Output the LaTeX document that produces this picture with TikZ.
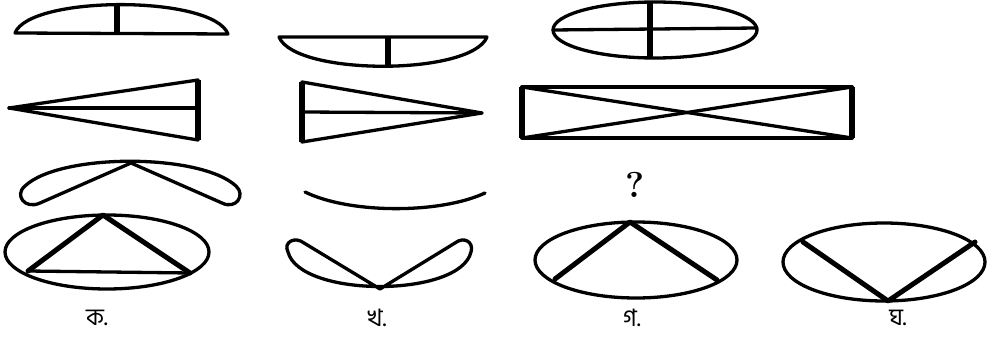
\documentclass[tikz,border=0pt]{standalone}
\usepackage{fontspec}
\newfontfamily\bnfont[Script=Bengali]{Hind Siliguri}
\begin{document}
\begin{tikzpicture}[x=1pt,y=-1pt,
  ln/.style={line width=3.3pt,line join=round,line cap=round},
  med/.style={line width=5pt,line join=round,line cap=round},
  thk/.style={line width=6.5pt,line cap=butt},
  lbl/.style={font=\bnfont\fontsize{24}{28}\selectfont,inner sep=0pt}]
\useasboundingbox[fill=white] (0,0) rectangle (987,339);
% row 1
\draw[ln] (15,33) .. controls (30,-5) and (213,-5) .. (228,34) -- cycle;
\draw[thk] (117,6) -- (117,33);
\draw[ln] (279,37) .. controls (295,76) and (471,76) .. (487,37) -- cycle;
\draw[thk] (388,37) -- (388,65);
\draw[ln] (655,30) ellipse [x radius=102, y radius=28];
\draw[ln] (553,30) -- (757,28);
\draw[thk] (650,2) -- (650,58);
% row 2
\draw[ln] (9,108) -- (198,80) -- (198,140) -- cycle;
\draw[ln] (9,108) -- (198,108);
\draw[thk] (198,80) -- (198,140);
\draw[ln] (302,82) -- (482,113) -- (302,142) -- cycle;
\draw[ln] (302,112) -- (482,113);
\draw[thk] (302,82) -- (302,142);
\draw[ln] (522,87) rectangle (852,138);
\draw[ln] (522,87) -- (852,138);
\draw[ln] (522,138) -- (852,87);
\draw[thk] (522,87) -- (522,138);
\draw[thk] (852,87) -- (852,138);
% row 3
\draw[ln] (131,163) -- (40,203) .. controls (25,210) and (14,195) .. (25,186)
  .. controls (60,153) and (200,153) .. (236,186)
  .. controls (246,195) and (236,210) .. (222,203) -- cycle;
\draw[ln] (305,192) .. controls (350,214) and (440,214) .. (485,193);
\node[inner sep=0pt] (q) at (635,185) {\fontsize{36}{40}\selectfont\textbf{?}};
% row 4
\draw[ln] (107,252) ellipse [x radius=102, y radius=37];
\draw[ln] (28,271) -- (190,273);
\draw[med] (28,271) -- (103,215) -- (190,273);
\draw[ln] (380,289) -- (304,243) .. controls (295,236) and (283,242) .. (288,252)
  .. controls (300,298) and (460,298) .. (471,252)
  .. controls (474,242) and (464,236) .. (455,243) -- cycle;
\draw[ln] (636,260) ellipse [x radius=101, y radius=38];
\draw[med] (555,279) -- (630,222) -- (717,280);
\draw[ln] (884,262) ellipse [x radius=101, y radius=39];
\draw[med] (803,242) -- (888,301) -- (975,242);
% labels
\node[lbl] (a) at (97,318) {ক.};
\node[lbl] (b) at (377,318) {খ.};
\node[lbl] (c) at (632,318) {গ.};
\node[lbl] (d) at (898,318) {ঘ.};
\end{tikzpicture}
\end{document}
